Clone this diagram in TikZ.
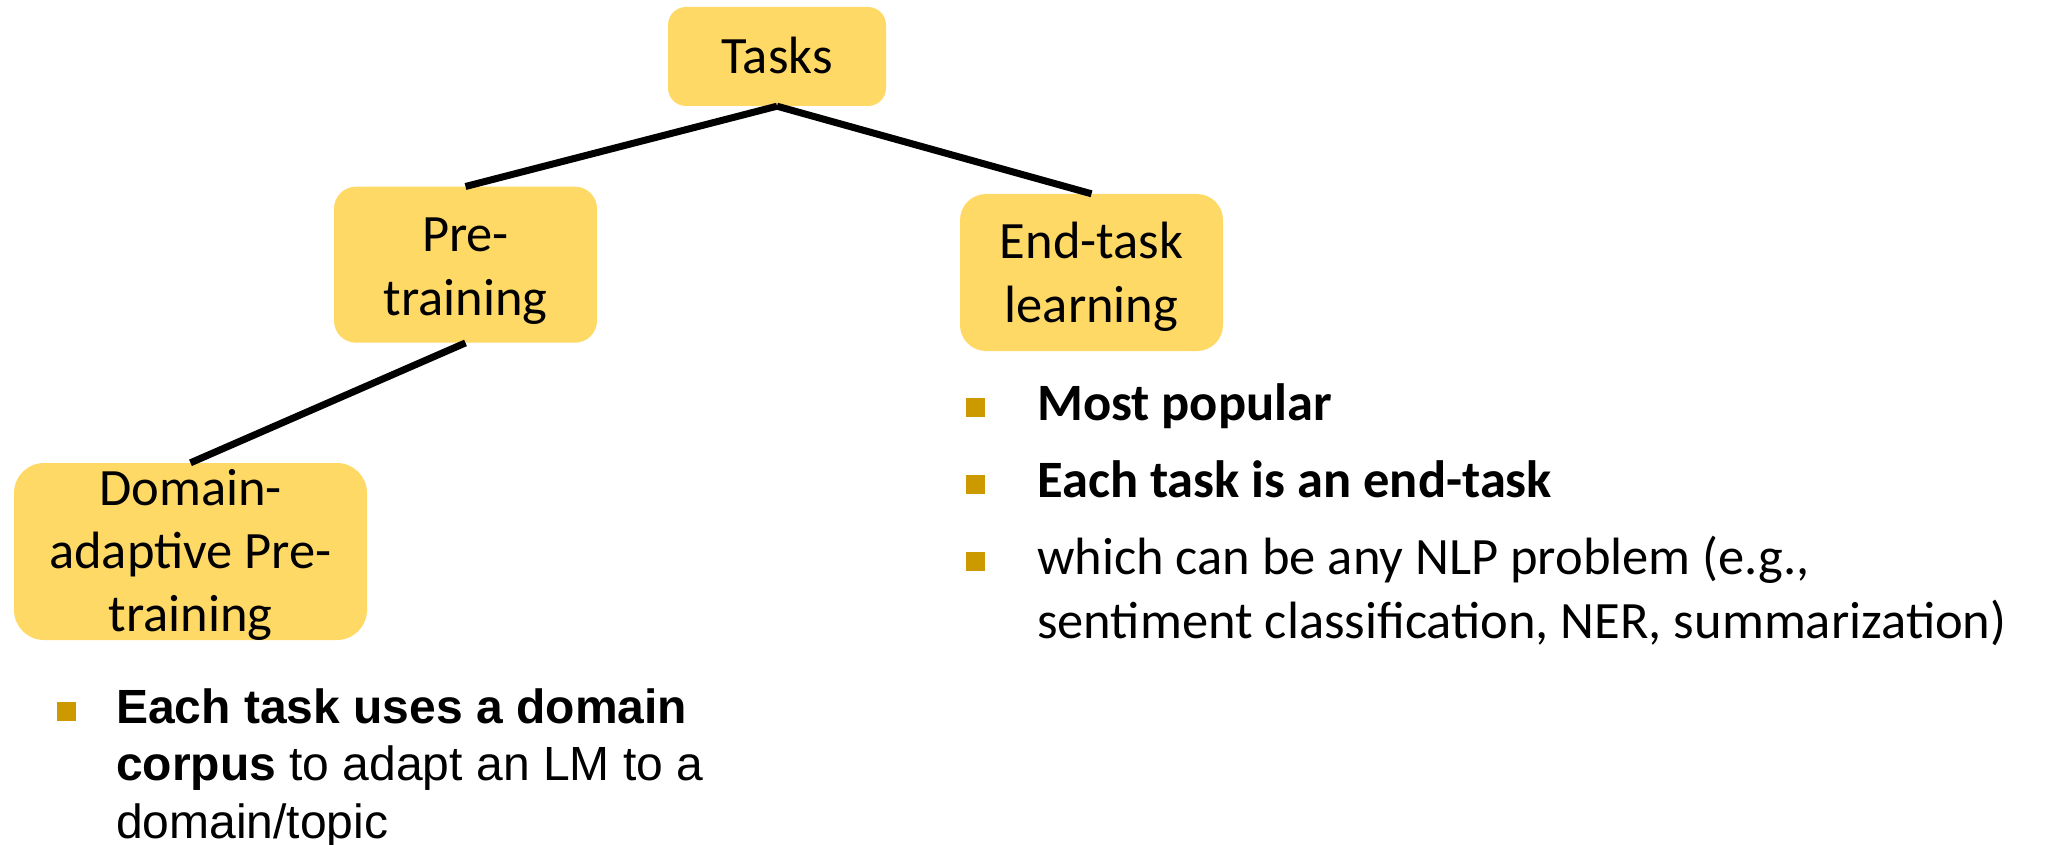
\documentclass[tikz,border=0pt]{standalone}
\usepackage{fontspec}
\setmainfont{Carlito}
\newfontfamily\arialfont{Liberation Sans}
\definecolor{boxgold}{RGB}{255,217,102}
\definecolor{bulletgold}{RGB}{204,153,0}
\tikzset{
  taskbox/.style={fill=boxgold, inner sep=0pt},
  boxlabel/.style={anchor=base, inner sep=0pt, align=center,
    font=\fontsize{52.5}{64}\selectfont},
  branch/.style={line width=7pt, black},
  sqbullet/.style={fill=bulletgold, inner sep=0pt, minimum width=19pt, minimum height=19pt},
  itemtext/.style={anchor=base west, inner sep=0pt, align=left,
    font=\fontsize{52.5}{64}\selectfont},
  notetext/.style={anchor=base west, inner sep=0pt, align=left,
    font=\arialfont\fontsize{48}{57.5}\selectfont}
}
\begin{document}
\begin{tikzpicture}[x=1pt, y=-1pt]
  \useasboundingbox (0,0) rectangle (2049,845);

  % task tree boxes
  \node[taskbox, rounded corners=18pt, minimum width=218pt, minimum height=99pt]
    (tasks) at (777,56.5) {};
  \node[taskbox, rounded corners=22pt, minimum width=263pt, minimum height=156pt]
    (pre) at (465.5,264.7) {};
  \node[taskbox, rounded corners=26pt, minimum width=263pt, minimum height=157pt]
    (endt) at (1091.5,272.5) {};
  \node[taskbox, rounded corners=30pt, minimum width=353pt, minimum height=177pt]
    (dom) at (190.5,551.5) {};

  % box captions, placed by their last baseline
  \node[boxlabel] (tasks-l) at (777,74) {Tasks};
  \node[boxlabel] (pre-l) at (465.5,315) {Pre-\\training};
  \node[boxlabel] (endt-l) at (1091.5,322) {End-task\\learning};
  \node[boxlabel, font=\fontsize{52.5}{63}\selectfont] (dom-l) at (190.5,631) {Domain-\\adaptive Pre-\\training};

  \draw[branch] (tasks.south) -- (pre.north);
  \draw[branch] (tasks.south) -- (endt.north);
  \draw[branch] (pre.south) -- (dom.north);

  % end-task learning notes (multi-line texts are placed by their last baseline)
  \node[sqbullet] (b1) at (975.5,407) {};
  \node[sqbullet] (b2) at (975.5,484) {};
  \node[sqbullet] (b3) at (975.5,561) {};
  \node[itemtext] (t1) at (1037,420) {\textbf{Most popular}};
  \node[itemtext] (t2) at (1037,497) {\textbf{Each task is an end-task}};
  \node[itemtext] (t3) at (1037,638) {which can be any NLP problem (e.g.,\\sentiment classification, NER, summarization)};

  % domain-adaptive pre-training note
  \node[sqbullet] (b4) at (66,711.5) {};
  \node[notetext] (t4) at (116,838) {\textbf{Each task uses a domain}\\\textbf{corpus} to adapt an LM to a\\domain/topic};
\end{tikzpicture}
\end{document}
